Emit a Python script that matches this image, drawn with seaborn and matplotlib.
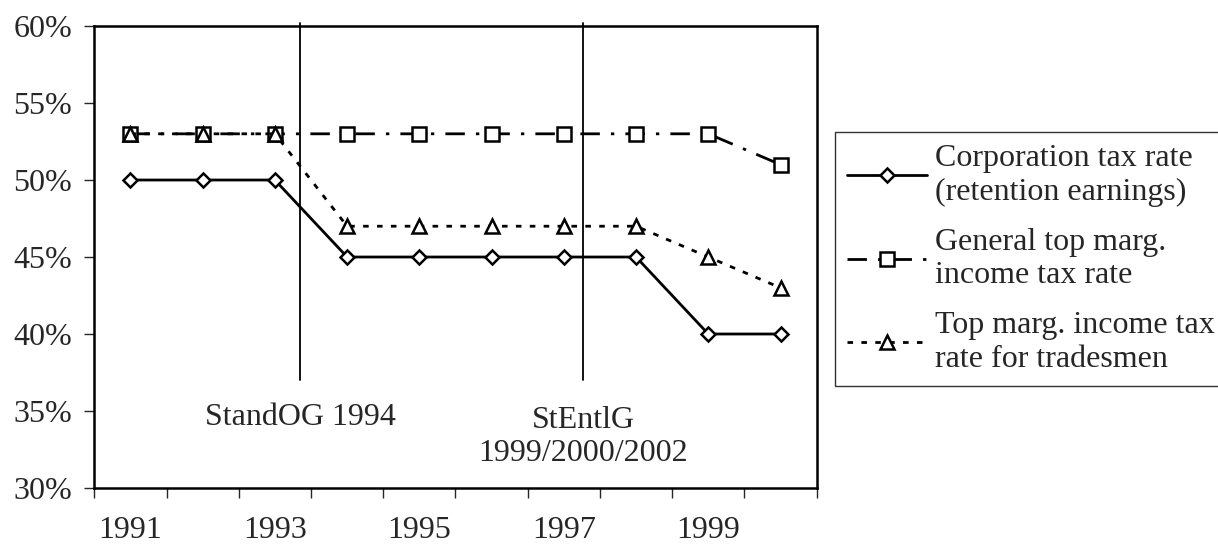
import numpy as np
import pandas as pd
import matplotlib
matplotlib.use("Agg")
import matplotlib.pyplot as plt
import seaborn as sns
from matplotlib.ticker import PercentFormatter, FixedLocator

# data
years = [1991, 1992, 1993, 1994, 1995, 1996, 1997, 1998, 1999, 2000]
corp_rate = [50, 50, 50, 45, 45, 45, 45, 45, 40, 40]
general_rate = [53, 53, 53, 53, 53, 53, 53, 53, 53, 51]
trades_rate = [53, 53, 53, 47, 47, 47, 47, 47, 45, 43]
reforms = ["StandOG 1994", "StEntlG\n1999/2000/2002"]
reform_pos = [1993.35, 1997.27]
labels = ["Corporation tax rate\n(retention earnings)",
          "General top marg.\nincome tax rate",
          "Top marg. income tax\nrate for tradesmen"]

df = pd.DataFrame({"year": years, "corp": corp_rate,
                   "general": general_rate, "trades": trades_rate})

sns.set_style("ticks")
plt.rcParams["font.family"] = ["Liberation Serif", "DejaVu Serif"]
plt.rcParams["font.size"] = 23

fig = plt.figure(figsize=(12.18, 5.49), dpi=100)
ax = fig.add_axes([0.0774, 0.1111, 0.6705 - 0.0774, 0.9526 - 0.1111])

common = dict(color="black", lw=2, mfc="white", mec="black", mew=1.8)
sns.lineplot(data=df, x="year", y="corp", ax=ax, marker="D", ms=7.5,
             linestyle="-", label=labels[0], **common)
sns.lineplot(data=df, x="year", y="general", ax=ax, marker="s", ms=10,
             linestyle=(0, (7, 4, 1.2, 4)), label=labels[1], **common)
sns.lineplot(data=df, x="year", y="trades", ax=ax, marker="^", ms=10,
             linestyle=(0, (2, 3)), label=labels[2], **common)

# reform markers (text baseline of the last line sits at the given y)
for x, txt in zip(reform_pos, reforms):
    ax.plot([x, x], [37, 60.2], color="black", lw=1.3, clip_on=False)
    ty = 31.75 if "\n" in txt else 34.09
    ax.text(x, ty, txt, ha="center", va="baseline", fontsize=23)

ax.set_xlim(1990.5, 2000.5)
ax.set_ylim(30, 60)
ax.set_yticks(np.arange(30, 61, 5))
ax.yaxis.set_major_formatter(PercentFormatter(decimals=0))
ax.xaxis.set_major_locator(FixedLocator(np.arange(1990.5, 2001, 1)))
ax.xaxis.set_major_formatter(plt.NullFormatter())
ax.xaxis.set_minor_locator(FixedLocator([1991, 1993, 1995, 1997, 1999]))
ax.xaxis.set_minor_formatter(plt.FuncFormatter(lambda v, p: f"{int(v)}"))
ax.tick_params(axis="x", which="major", length=7, width=1, direction="out")
ax.tick_params(axis="x", which="minor", length=0, pad=20, labelsize=23)
ax.tick_params(axis="y", length=7, width=1, direction="out", pad=9, labelsize=23)
ax.set_xlabel("")
ax.set_ylabel("")
for s in ax.spines.values():
    s.set_visible(True)
    s.set_linewidth(1.8)
    s.set_color("black")

leg = ax.legend(loc="upper left", bbox_to_anchor=(835 / 1218, 1 - 132 / 549),
                bbox_transform=fig.transFigure, frameon=True, fancybox=False,
                edgecolor="black", handlelength=2.5, handletextpad=0.25,
                borderpad=0.38, labelspacing=0.66, fontsize=23, borderaxespad=0)
leg.get_frame().set_linewidth(1)

fig.savefig("out.png", dpi=100)
